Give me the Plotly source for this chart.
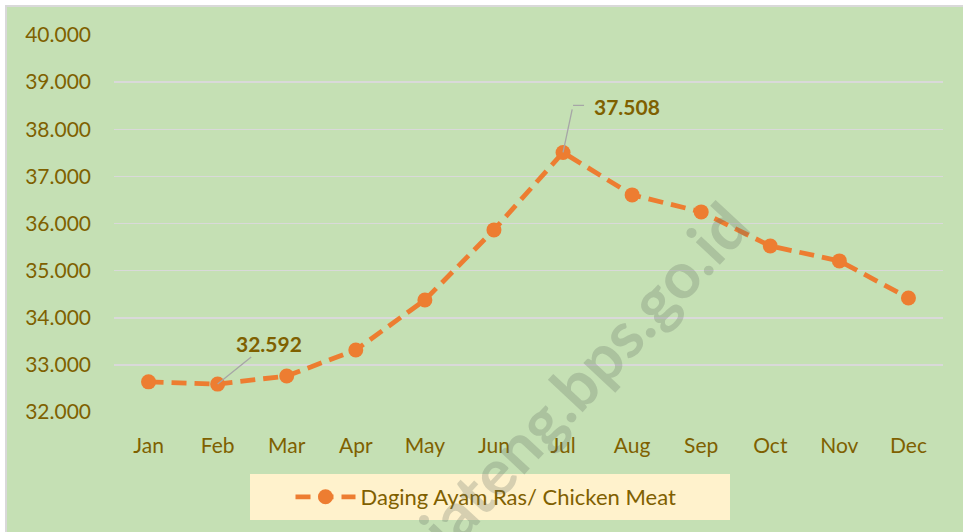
import plotly.graph_objects as go

months = ["Jan", "Feb", "Mar", "Apr", "May", "Jun", "Jul", "Aug", "Sep", "Oct", "Nov", "Dec"]
prices = [32640, 32592, 32764, 33316, 34378, 35864, 37508, 36607, 36246, 35524, 35206, 34420]
series_name = "Daging Ayam Ras/ Chicken Meat"
y_ticks = [32000, 33000, 34000, 35000, 36000, 37000, 38000, 39000, 40000]
y_ticktext = ["32.000", "33.000", "34.000", "35.000", "36.000", "37.000", "38.000", "39.000", "40.000"]

TXT = "#7f6000"
ORANGE = "#ed7d31"
GREEN = "#c5e0b4"
FONT = "Lato"

def fmt(v):
    return f"{v:,}".replace(",", ".")

W, H = 963, 532
L, R, T, B = 114, 20, 35, 120
pw, ph = W - L - R, H - T - B

def px_x(p):
    return (p - L) / pw

def px_y(p):
    return (H - B - p) / ph

fig = go.Figure()
fig.add_trace(go.Scatter(
    x=months, y=prices, mode="lines+markers", name=series_name,
    line=dict(color=ORANGE, width=4.8, dash="15px,8px"),
    marker=dict(color=ORANGE, size=15),
    showlegend=True,
))

feb_i = 1
jul_i = 6
annotations = [
    dict(x=months[feb_i], y=prices[feb_i], text="<b>" + fmt(prices[feb_i]) + "</b>",
         showarrow=True, ax=51, ay=-41, arrowhead=0, arrowwidth=1.3, arrowcolor="#a6a6a6",
         standoff=0, font=dict(family=FONT, size=21, color=TXT)),
    dict(x=months[jul_i], y=prices[jul_i], text=" ", showarrow=True, ax=10, ay=-47,
         arrowhead=0, arrowwidth=1.3, arrowcolor="#a6a6a6", standoff=0,
         font=dict(family=FONT, size=4)),
    dict(x=months[jul_i], y=prices[jul_i], text=" ", showarrow=True, ax=13, ay=0,
         xshift=10, yshift=47, arrowhead=0, arrowwidth=1.3, arrowcolor="#a6a6a6", standoff=0,
         font=dict(family=FONT, size=4)),
    dict(x=months[jul_i], y=prices[jul_i], text="<b>" + fmt(prices[jul_i]) + "</b>",
         showarrow=False, xanchor="left", yanchor="middle", xshift=29, yshift=46,
         font=dict(family=FONT, size=21, color=TXT)),
    dict(xref="paper", yref="paper", x=px_x(582), y=px_y(376), text="<b>jateng.bps.go.id</b>",
         showarrow=False, textangle=-47, xanchor="center", yanchor="middle",
         font=dict(family=FONT, size=64, color="rgba(95,110,95,0.26)")),
]

shapes = [
    dict(type="rect", xref="paper", yref="paper", x0=px_x(6), x1=px_x(975), y0=px_y(6), y1=px_y(545),
         fillcolor=GREEN, line=dict(color="#d9d9d9", width=2), layer="below"),
    dict(type="rect", xref="paper", yref="paper", x0=px_x(250), x1=px_x(730), y0=px_y(474), y1=px_y(520),
         fillcolor="#fff2cc", line=dict(width=0), layer="below"),
]

fig.update_layout(
    width=W, height=H,
    margin=dict(l=L, r=R, t=T, b=B, autoexpand=False),
    paper_bgcolor="white",
    plot_bgcolor="rgba(0,0,0,0)",
    font=dict(family=FONT, color=TXT),
    showlegend=True,
    legend=dict(orientation="h", x=px_x(486), xanchor="center", y=px_y(497), yanchor="middle",
                bgcolor="rgba(0,0,0,0)", font=dict(family=FONT, size=22, color=TXT),
                itemwidth=60),
    annotations=annotations,
    shapes=shapes,
    xaxis=dict(type="category", range=[-0.5, 11.5], showgrid=False, showline=False, zeroline=False,
               ticks="", tickfont=dict(family=FONT, size=21, color=TXT), ticklabelstandoff=19,
               fixedrange=True),
    yaxis=dict(range=[32000, 40000], tickvals=y_ticks, ticktext=y_ticktext, showgrid=True,
               gridcolor="#d9d9d9", gridwidth=1.5, zeroline=False, showline=False, ticks="",
               tickfont=dict(family=FONT, size=21, color=TXT), ticklabelstandoff=22,
               fixedrange=True),
)

fig.write_html("out.html", config={"displayModeBar": False, "staticPlot": True},
               post_script="document.body.style.margin='0';document.body.style.overflow='hidden';")
